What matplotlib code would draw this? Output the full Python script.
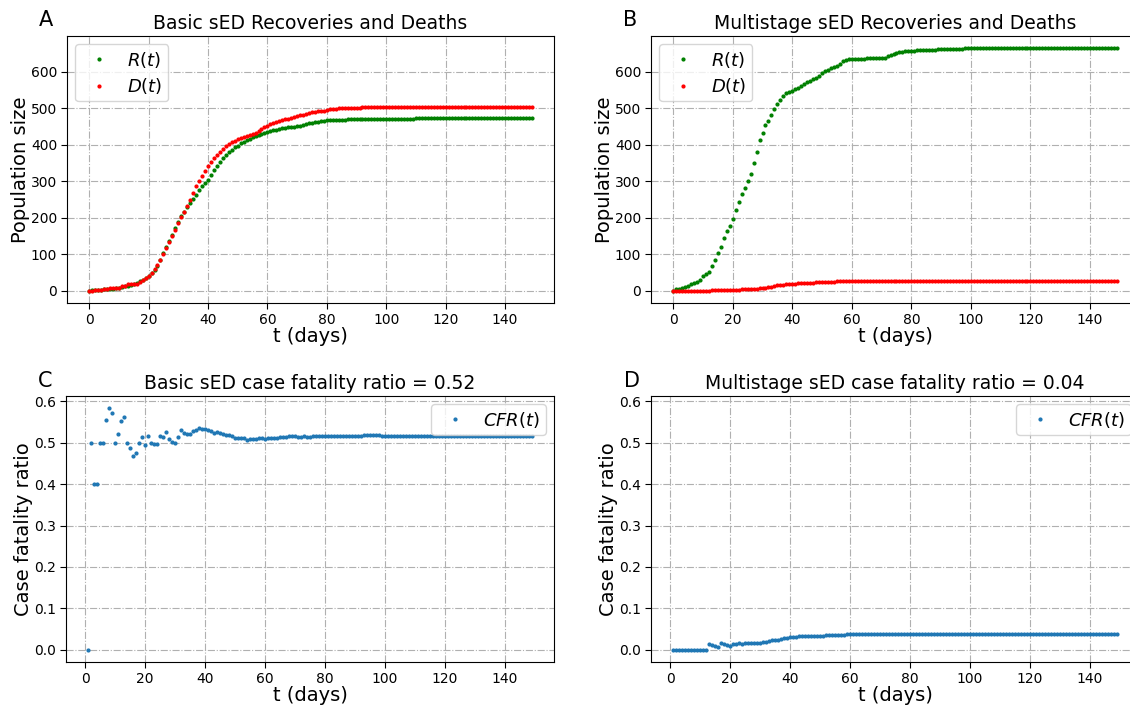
import numpy as np
import matplotlib
matplotlib.use("Agg")
import matplotlib.pyplot as plt

# ---------------- data ----------------
days = np.arange(150)
days_cfr = np.arange(1, 150)

R_basic = [0, 1, 1, 3, 3, 4, 5, 5, 6, 7,
           9, 11, 12, 14, 17, 19, 22, 26, 29, 34,
           41, 49, 58, 69, 85, 103, 120, 137, 154, 172,
           190, 204, 217, 229, 241, 252, 264, 276, 287, 296,
           305, 318, 330, 342, 353, 363, 372, 380, 387, 393,
           398, 404, 409, 413, 417, 421, 424, 427, 430, 433,
           436, 438, 440, 442, 444, 446, 447, 448, 449, 450,
           451, 453, 455, 457, 459, 461, 462, 463, 465, 466,
           467, 467, 468, 468, 469, 469, 469, 470, 470, 470,
           470, 470, 470, 470, 471, 471, 471, 471, 471, 471,
           472, 472, 472, 472, 472, 472, 472, 472, 472, 472,
           473, 473, 473, 473, 473, 473, 473, 473, 473, 473,
           473, 473, 473, 473, 473, 473, 473, 473, 473, 473,
           473, 473, 473, 473, 473, 473, 473, 473, 473, 473,
           473, 473, 473, 473, 473, 473, 473, 473, 473, 473]

D_basic = [0, 0, 1, 2, 2, 4, 5, 7, 8, 8,
           9, 12, 14, 18, 18, 18, 19, 24, 29, 36,
           42, 50, 59, 70, 85, 101, 117, 133, 150, 167,
           185, 201, 217, 233, 250, 268, 286, 302, 316, 329,
           341, 353, 364, 373, 381, 389, 396, 402, 407, 411,
           415, 419, 422, 425, 427, 429, 433, 438, 443, 448,
           452, 456, 459, 462, 465, 468, 470, 472, 474, 476,
           479, 481, 483, 485, 487, 489, 490, 492, 493, 494,
           496, 497, 498, 499, 500, 500, 501, 501, 502, 502,
           502, 502, 503, 503, 503, 503, 503, 503, 503, 503,
           504, 504, 504, 504, 504, 504, 504, 504, 504, 504,
           504, 504, 504, 504, 504, 504, 504, 504, 504, 504,
           504, 504, 504, 504, 504, 504, 504, 504, 504, 504,
           504, 504, 504, 504, 504, 504, 504, 504, 504, 504,
           504, 504, 504, 504, 504, 504, 504, 504, 504, 504]

R_multi = [0, 4, 6, 8, 10, 14, 18, 22, 24, 31,
           40, 46, 52, 69, 84, 103, 119, 145, 163, 179,
           197, 222, 244, 265, 282, 300, 320, 350, 380, 412,
           433, 454, 466, 483, 499, 511, 523, 534, 541, 545,
           548, 552, 557, 562, 566, 572, 576, 580, 584, 590,
           598, 602, 606, 610, 614, 617, 622, 629, 632, 634,
           634, 635, 635, 636, 636, 637, 637, 637, 638, 638,
           639, 639, 644, 646, 649, 652, 654, 655, 656, 657,
           658, 658, 659, 659, 659, 660, 660, 661, 661, 662,
           662, 662, 663, 663, 663, 664, 664, 664, 665, 665,
           665, 665, 665, 665, 665, 665, 665, 665, 665, 665,
           665, 665, 665, 665, 665, 665, 665, 665, 665, 665,
           665, 665, 665, 665, 665, 665, 665, 665, 665, 665,
           665, 665, 665, 665, 665, 665, 665, 665, 665, 665,
           665, 665, 665, 665, 665, 665, 665, 665, 665, 665]

D_multi = [0, 0, 0, 0, 0, 0, 0, 0, 0, 0,
           0, 0, 0, 1, 1, 1, 1, 1, 2, 2,
           2, 3, 3, 4, 4, 5, 5, 6, 6, 7,
           8, 9, 10, 11, 13, 15, 16, 17, 18, 19,
           20, 20, 21, 21, 21, 22, 22, 22, 23, 23,
           24, 24, 24, 25, 25, 26, 26, 26, 26, 27,
           27, 27, 27, 27, 27, 27, 27, 27, 27, 27,
           28, 28, 28, 28, 28, 28, 28, 28, 28, 28,
           28, 28, 28, 28, 28, 28, 28, 28, 28, 28,
           28, 28, 28, 28, 28, 28, 28, 28, 28, 28,
           28, 28, 28, 28, 28, 28, 28, 28, 28, 28,
           28, 28, 28, 28, 28, 28, 28, 28, 28, 28,
           28, 28, 28, 28, 28, 28, 28, 28, 28, 28,
           28, 28, 28, 28, 28, 28, 28, 28, 28, 28,
           28, 28, 28, 28, 28, 28, 28, 28, 28, 28]

CFR_basic = [0.0, 0.5, 0.4, 0.4, 0.5, 0.5, 0.555, 0.583, 0.571, 0.5,
             0.522, 0.551, 0.5625, 0.5, 0.488, 0.468, 0.474, 0.5, 0.514, 0.494,
             0.515, 0.5, 0.497, 0.497, 0.515, 0.513, 0.526, 0.509, 0.502, 0.499,
             0.514, 0.53, 0.524, 0.52, 0.52, 0.527, 0.53, 0.535, 0.533, 0.532,
             0.53, 0.528, 0.524, 0.526, 0.523, 0.521, 0.518, 0.518, 0.515, 0.511,
             0.512, 0.512, 0.51, 0.507, 0.509, 0.509, 0.509, 0.51, 0.51, 0.509,
             0.51, 0.511, 0.511, 0.512, 0.513, 0.514, 0.514, 0.515, 0.515, 0.515,
             0.514, 0.514, 0.515, 0.514, 0.514, 0.515, 0.515, 0.515, 0.515, 0.515,
             0.515, 0.515, 0.515, 0.516, 0.516, 0.516, 0.516, 0.516, 0.517, 0.517,
             0.517, 0.517, 0.518, 0.518, 0.518, 0.518, 0.518, 0.518, 0.517, 0.517,
             0.517, 0.517, 0.517, 0.517, 0.517, 0.517, 0.517, 0.517, 0.517, 0.517,
             0.517, 0.517, 0.517, 0.517, 0.517, 0.517, 0.517, 0.517, 0.517, 0.517,
             0.516, 0.516, 0.516, 0.516, 0.516, 0.516, 0.516, 0.516, 0.516, 0.516,
             0.516, 0.516, 0.516, 0.516, 0.516, 0.516, 0.516, 0.516, 0.516, 0.516,
             0.516, 0.516, 0.516, 0.516, 0.516, 0.516, 0.516, 0.516, 0.516]

CFR_multi = [0, 0, 0, 0, 0, 0, 0, 0, 0, 0,
             0, 0, 0.0137, 0.011, 0.0097, 0.008, 0.016, 0.0137, 0.011, 0.0097,
             0.0137, 0.0145, 0.016, 0.015, 0.017, 0.016, 0.0177, 0.016, 0.016, 0.0177,
             0.0185, 0.020, 0.0226, 0.023, 0.024, 0.025, 0.026, 0.028, 0.029, 0.031,
             0.032, 0.032, 0.033, 0.033, 0.033, 0.033, 0.033, 0.033, 0.033, 0.033,
             0.034, 0.035, 0.035, 0.035, 0.035, 0.036, 0.036, 0.037, 0.038, 0.0385,
             0.0385, 0.0385, 0.0385, 0.0385, 0.0385, 0.0385, 0.0385, 0.0385, 0.0385, 0.0385,
             0.0385, 0.0385, 0.0385, 0.0385, 0.0385, 0.0385, 0.0385, 0.0385, 0.0385, 0.0385,
             0.0385, 0.0385, 0.0385, 0.0385, 0.0385, 0.0385, 0.0385, 0.0385, 0.0385, 0.0385,
             0.0385, 0.0385, 0.0385, 0.0385, 0.0385, 0.0385, 0.0385, 0.0385, 0.0385, 0.0385,
             0.0385, 0.0385, 0.0385, 0.0385, 0.0385, 0.0385, 0.0385, 0.0385, 0.0385, 0.0385,
             0.0385, 0.0385, 0.0385, 0.0385, 0.0385, 0.0385, 0.0385, 0.0385, 0.0385, 0.0385,
             0.0385, 0.0385, 0.0385, 0.0385, 0.0385, 0.0385, 0.0385, 0.0385, 0.0385, 0.0385,
             0.0385, 0.0385, 0.0385, 0.0385, 0.0385, 0.0385, 0.0385, 0.0385, 0.0385, 0.0385,
             0.0385, 0.0385, 0.0385, 0.0385, 0.0385, 0.0385, 0.0385, 0.0385, 0.0385]

titles = ["Basic sED Recoveries and Deaths",
          "Multistage sED Recoveries and Deaths",
          "Basic sED case fatality ratio = 0.52",
          "Multistage sED case fatality ratio = 0.04"]
panel_letters = ["A", "B", "C", "D"]

# ---------------- figure ----------------
W, H = 1130, 706
fig = plt.figure(figsize=(W / 100, H / 100), dpi=100)

def px_axes(left, right, top, bottom):
    return fig.add_axes([left / W, 1 - bottom / H, (right - left) / W, (bottom - top) / H])

axA = px_axes(67, 554, 36, 303)
axB = px_axes(651, 1139, 36, 303)
axC = px_axes(66, 554, 396, 662)
axD = px_axes(651, 1139, 396, 662)

TICK = 10
LAB = 14
TIT = 13.5
LEG = 13
ms = 4

for ax in (axA, axB, axC, axD):
    ax.grid(True, linestyle='-.', color='#b0b0b0', linewidth=0.8)
    ax.set_axisbelow(True)
    ax.tick_params(labelsize=TICK, length=4, pad=3)
    ax.set_xlabel("t (days)", fontsize=LAB, labelpad=0)
    ax.set_xticks(np.arange(0, 141, 20))

axA.plot(days, R_basic, '.', color='green', markersize=ms, label=r'$R(t)$')
axA.plot(days, D_basic, '.', color='red', markersize=ms, label=r'$D(t)$')
axB.plot(days, R_multi, '.', color='green', markersize=ms, label=r'$R(t)$')
axB.plot(days, D_multi, '.', color='red', markersize=ms, label=r'$D(t)$')
axC.plot(days_cfr, CFR_basic, '.', color='#1f77b4', markersize=ms, label=r'$CFR(t)$')
axD.plot(days_cfr, CFR_multi, '.', color='#1f77b4', markersize=ms, label=r'$CFR(t)$')

leg_kw = dict(fontsize=LEG, borderpad=0.3, labelspacing=0.35,
              borderaxespad=0.45, handletextpad=0.6)
for ax in (axA, axB):
    ax.set_ylim(-33.25, 698.25)
    ax.set_yticks(np.arange(0, 601, 100))
    ax.set_ylabel("Population size", fontsize=LAB, labelpad=1)
    ax.legend(loc='upper left', **leg_kw)
for ax in (axC, axD):
    ax.set_ylim(-0.0292, 0.6125)
    ax.set_yticks(np.arange(0, 0.61, 0.1))
    ax.set_ylabel("Case fatality ratio", fontsize=LAB, labelpad=1)
    ax.legend(loc='upper right', **leg_kw)

for ax, t, L, (lx, ly) in zip((axA, axB, axC, axD), titles, panel_letters,
                              [(39, 26), (623, 26), (38, 387), (624, 387)]):
    ax.set_title(t, fontsize=TIT, pad=5)
    fig.text(lx / W, 1 - ly / H, L, fontsize=15)

fig.savefig("out.png", dpi=100)
